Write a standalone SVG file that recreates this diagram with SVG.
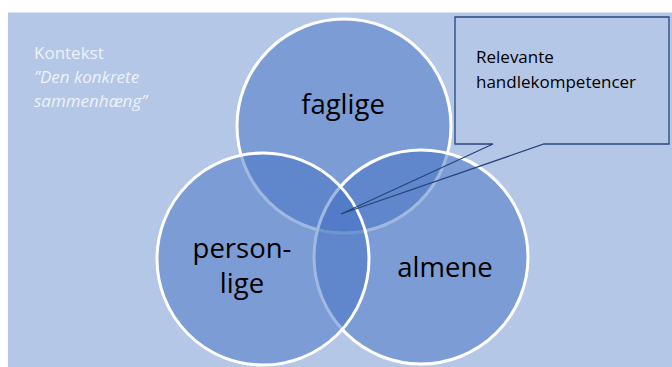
<svg xmlns="http://www.w3.org/2000/svg" width="672" height="367" viewBox="0 0 672 367">
  <style>
    .venn { fill: #4472C4; fill-opacity: 0.5; stroke: #FFFFFF; stroke-width: 3; }
    .label { font-family: "Open Sans", "Liberation Sans", sans-serif; font-size: 27.5px; fill: #000000; text-anchor: middle; }
    .ctx { font-family: "Open Sans", "Liberation Sans", sans-serif; font-size: 17px; fill: #EDF1F9; }
    .callout { fill: none; stroke: #28457A; stroke-width: 1.3; stroke-linejoin: miter; }
    .callout-text { font-family: "Open Sans", "Liberation Sans", sans-serif; font-size: 17px; fill: #000000; }
  </style>

  <!-- white page -->
  <rect x="0" y="0" width="672" height="367" fill="#FFFFFF"/>

  <!-- context backdrop -->
  <g id="kontekst">
    <rect x="8" y="12.5" width="664" height="354.5" fill="#B4C7E7"/>
    <text class="ctx" x="34" y="59">Kontekst</text>
    <text class="ctx" x="34" y="83" font-style="italic">”Den konkrete</text>
    <text class="ctx" x="34" y="107" font-style="italic">sammenhæng”</text>
  </g>

  <!-- Venn circles -->
  <g id="faglige">
    <circle class="venn" cx="344" cy="126" r="107"/>
    <text class="label" x="343" y="114">faglige</text>
  </g>
  <g id="almene">
    <circle class="venn" cx="421" cy="257" r="107"/>
    <text class="label" x="445" y="277">almene</text>
  </g>
  <g id="personlige">
    <circle class="venn" cx="263" cy="259" r="106"/>
    <text class="label" x="242" y="258">person-</text>
    <text class="label" x="242" y="293">lige</text>
  </g>

  <!-- callout pointing into the shared centre -->
  <g id="connectors">
    <path class="callout" d="M455,17 H669 V144 H544 L341,214 L493,144 H455 Z"/>
  </g>
  <g id="relevante">
    <text class="callout-text" x="476" y="63">Relevante</text>
    <text class="callout-text" x="476" y="88">handlekompetencer</text>
  </g>
</svg>
